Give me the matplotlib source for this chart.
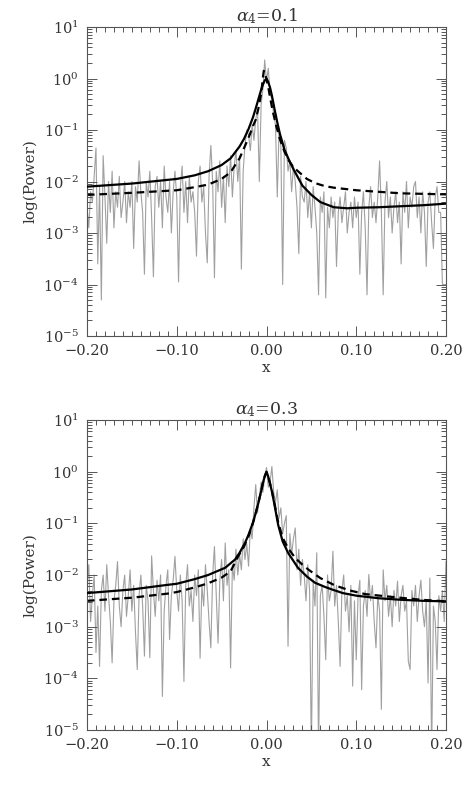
import numpy as np
import matplotlib
matplotlib.use("Agg")
import matplotlib.pyplot as plt
from matplotlib.ticker import MultipleLocator, LogLocator, FuncFormatter, NullFormatter

# ---------------- data ----------------
titles = [r"$\alpha_4$=0.1", r"$\alpha_4$=0.3"]
x_ticks = [-0.20, -0.10, 0.00, 0.10, 0.20]

# observed spectrum, log10(power), evenly sampled from x=-0.2 to 0.2
spec_top_log = [
    -2.5, -2.9, -2.2, -2.4, -1.9, -1.35, -3.6, -2.1, -4.3, -1.5,
    -2.3, -3.2, -2.0, -2.6, -1.8, -2.9, -2.2, -2.5, -1.9, -2.7,
    -2.4, -2.0, -2.8, -2.2, -2.5, -2.0, -3.3, -2.1, -2.4, -1.6,
    -2.2, -2.6, -3.8, -2.0, -2.3, -1.8, -2.7, -3.85, -2.1, -1.9,
    -2.5, -2.0, -2.9, -1.7, -2.3, -2.6, -2.0, -3.0, -2.2, -1.8,
    -2.3, -3.95, -2.1, -1.7, -2.6, -2.0, -2.8, -1.9, -2.4, -2.2,
    -2.6, -3.45, -2.0, -1.7, -2.4, -2.1, -3.0, -3.58, -1.9, -1.3,
    -2.0, -3.87, -1.8, -2.2, -1.6, -2.5, -1.9, -2.8, -1.7, -2.1,
    -1.5, -2.3, -1.7, -1.4, -2.0, -1.5, -3.7, -1.8, -1.3, -1.0,
    -1.1, -1.4, -0.9, -1.2, -0.8, -0.6, -2.0, -0.5, -0.2, 0.36,
    -0.05,
    0.2, -0.3, -0.4, -0.7, -0.9, -2.3, -1.0, -1.3, -4.0, -1.2,
    -1.35, -1.8, -1.6, -2.2, -1.7, -2.0, -2.5, -3.4, -1.9, -2.3,
    -2.4, -2.0, -2.7, -2.2, -2.9, -2.1, -2.5, -3.0, -4.2, -2.3,
    -2.6, -2.2, -4.26, -2.5, -2.9, -2.3, -2.7, -2.4, -3.65, -2.6,
    -2.3, -2.8, -2.5, -2.2, -3.0, -2.6, -2.4, -2.9, -2.3, -2.7,
    -2.4, -3.8, -2.6, -2.2, -2.9, -4.2, -2.5, -2.1, -2.7, -2.4,
    -2.8, -2.3, -1.6, -2.6, -4.2, -2.4, -2.0, -2.7, -2.3, -3.0,
    -2.5, -2.2, -2.8, -2.4, -3.6, -2.2, -2.6, -2.0, -2.9, -2.3,
    -2.5, -2.1, -2.0, -2.7, -2.3, -3.0, -2.2, -2.6, -3.65, -2.4,
    -2.2, -2.8, -3.3, -2.3, -2.1, -2.6, -2.6, -4.0, -4.0, -4.0,
]
spec_bot_log = [
    -2.2, -1.8, -2.9, -2.4, -2.0, -3.5, -2.6, -3.77, -2.3, -2.0,
    -2.7, -1.8, -2.4, -2.9, -3.7, -2.5, -2.2, -1.74, -2.6, -3.0,
    -2.3, -2.0, -2.8, -2.4, -1.9, -2.7, -2.2, -3.1, -3.83, -2.4,
    -2.0, -2.6, -3.57, -2.2, -2.5, -3.6, -1.63, -2.3, -2.8, -2.1,
    -2.5, -2.0, -4.35, -2.7, -2.2, -1.9, -3.25, -2.4, -2.1, -1.64,
    -2.3, -2.7, -2.0, -2.5, -4.06, -2.2, -1.8, -2.6, -2.3, -2.9,
    -2.0, -2.4, -1.9, -3.61, -2.2, -2.6, -1.8, -2.3, -2.9, -3.41,
    -2.0, -1.45, -2.4, -3.32, -2.1, -1.7, -2.5, -1.38, -2.2, -1.9,
    -3.8, -1.8, -2.1, -1.5, -2.0, -1.6, -1.9, -1.3, -1.7, -1.4,
    -1.83, -1.1, -1.3, -0.7, -0.25, -0.8, -0.5, -0.2, -0.4, -0.1,
    0.08,
    -0.3, -0.2, 0.1, -0.4, -0.6, -0.35, -0.9, -0.7, -1.2, -1.0,
    -0.85, -3.38, -1.2, -1.6, -1.3, -1.09, -1.9, -1.5, -2.2, -1.7,
    -2.0, -2.5, -1.8, -2.3, -5.5, -2.1, -2.6, -1.57, -5.5, -2.4,
    -2.2, -2.8, -3.64, -2.0, -2.5, -2.3, -1.54, -2.6, -2.2, -2.9,
    -3.77, -2.3, -2.0, -2.7, -2.4, -3.1, -2.2, -4.15, -2.5, -3.64,
    -2.4, -2.1, -4.22, -2.6, -2.3, -2.8, -1.99, -2.5, -2.2, -2.9,
    -3.41, -2.4, -2.7, -4.6, -1.9, -2.5, -2.2, -2.8, -2.4, -3.0,
    -2.3, -2.6, -2.12, -2.9, -2.4, -2.2, -2.7, -2.5, -3.67, -3.83,
    -2.3, -2.6, -2.2, -2.9, -2.4, -2.1, -2.7, -3.0, -2.5, -4.09,
    -2.06, -5.5, -2.6, -2.9, -3.83, -2.4, -2.7, -2.3, -2.9, -1.74,
]

# model curves (x, log10 power)
top_solid_x = [-0.2, -0.15, -0.1, -0.08, -0.065, -0.05, -0.04, -0.03, -0.025, -0.02,
               -0.015, -0.012, -0.009, -0.006, -0.004, -0.002, 0.0, 0.002, 0.004, 0.006,
               0.009, 0.012, 0.015, 0.02, 0.025, 0.03, 0.04, 0.05, 0.06, 0.075,
               0.09, 0.1, 0.125, 0.15, 0.175, 0.2]
top_solid_log = [-2.10, -2.04, -1.95, -1.88, -1.80, -1.68, -1.55, -1.32, -1.17, -0.98,
                 -0.75, -0.58, -0.40, -0.22, -0.12, -0.04, 0.0, -0.07, -0.18, -0.33,
                 -0.60, -0.85, -1.08, -1.38, -1.58, -1.76, -2.08, -2.26, -2.40, -2.50,
                 -2.52, -2.51, -2.50, -2.48, -2.46, -2.43]
top_dash_x = [-0.2, -0.15, -0.1, -0.08, -0.065, -0.05, -0.04, -0.03, -0.025, -0.02,
              -0.015, -0.012, -0.009, -0.006, -0.004, -0.003, -0.002, 0.0, 0.002, 0.004,
              0.007, 0.011, 0.015, 0.02, 0.025, 0.03, 0.035, 0.045, 0.054, 0.065,
              0.075, 0.1, 0.125, 0.15, 0.175, 0.2]
top_dash_log = [-2.26, -2.22, -2.17, -2.11, -2.06, -1.95, -1.82, -1.55, -1.35, -1.15,
                -0.92, -0.80, -0.58, -0.30, 0.02, 0.15, 0.12, -0.02, -0.17, -0.37,
                -0.64, -0.93, -1.18, -1.42, -1.60, -1.72, -1.80, -1.95, -2.03, -2.09,
                -2.12, -2.17, -2.20, -2.23, -2.24, -2.25]
bot_solid_x = [-0.2, -0.15, -0.11, -0.1, -0.08, -0.065, -0.046, -0.035, -0.03, -0.024,
               -0.02, -0.015, -0.012, -0.009, -0.006, -0.004, -0.002, 0.0, 0.002, 0.004,
               0.006, 0.009, 0.013, 0.018, 0.024, 0.035, 0.045, 0.054, 0.065, 0.073,
               0.085, 0.1, 0.125, 0.15, 0.175, 0.2]
bot_solid_log = [-2.35, -2.28, -2.19, -2.17, -2.08, -2.00, -1.86, -1.70, -1.57, -1.38,
                 -1.22, -0.98, -0.80, -0.60, -0.38, -0.22, -0.09, 0.0, -0.10, -0.24,
                 -0.38, -0.65, -1.03, -1.35, -1.57, -1.86, -2.03, -2.15, -2.23, -2.28,
                 -2.35, -2.40, -2.45, -2.48, -2.50, -2.51]
bot_dash_x = [-0.2, -0.15, -0.11, -0.1, -0.08, -0.065, -0.05, -0.04, -0.031, -0.025,
              -0.02, -0.015, -0.012, -0.009, -0.006, -0.004, -0.002, 0.0, 0.002, 0.004,
              0.006, 0.009, 0.013, 0.018, 0.024, 0.032, 0.04, 0.047, 0.06, 0.076,
              0.093, 0.11, 0.143, 0.173, 0.2]
bot_dash_log = [-2.50, -2.44, -2.36, -2.33, -2.24, -2.16, -2.05, -1.93, -1.62, -1.45,
                -1.25, -0.99, -0.80, -0.60, -0.38, -0.22, -0.09, -0.01, -0.10, -0.23,
                -0.37, -0.62, -0.98, -1.28, -1.48, -1.67, -1.80, -1.90, -2.06, -2.20,
                -2.30, -2.37, -2.43, -2.48, -2.51]

panels = [
    (spec_top_log, top_solid_x, top_solid_log, top_dash_x, top_dash_log),
    (spec_bot_log, bot_solid_x, bot_solid_log, bot_dash_x, bot_dash_log),
]

# ---------------- figure ----------------
plt.rcParams['font.family'] = ['DejaVu Serif']
plt.rcParams['mathtext.fontset'] = 'dejavuserif'
txt_col = '#333333'
axis_col = '#555555'

W, H = 472, 786
fig = plt.figure(figsize=(W / 100, H / 100), dpi=100)
axes_px = [(87, 27, 446, 336), (87, 420, 446, 730)]

def minus_fmt(v, pos):
    s = "%.2f" % v
    return s.replace("-", "\u2212")

for (l, t, r, b), title, (spec, sx, sy, dx, dy) in zip(axes_px, titles, panels):
    ax = fig.add_axes([l / W, 1 - b / H, (r - l) / W, (b - t) / H])
    xs = np.linspace(-0.2, 0.2, len(spec))
    ax.plot(xs, 10 ** np.array(spec), color='#a0a0a0', lw=0.8, zorder=1)
    ax.plot(sx, 10 ** np.array(sy), color='black', lw=1.6, zorder=3)
    ax.plot(dx, 10 ** np.array(dy), color='black', lw=1.6, dashes=[3.4, 2.2], zorder=2)
    ax.set_yscale('log')
    ax.set_xlim(-0.2, 0.2)
    ax.set_ylim(1e-5, 1e1)
    ax.set_xticks(x_ticks)
    ax.xaxis.set_major_formatter(FuncFormatter(minus_fmt))
    ax.xaxis.set_minor_locator(MultipleLocator(0.01))
    ax.yaxis.set_major_locator(LogLocator(base=10, numticks=10))
    ax.yaxis.set_minor_locator(LogLocator(base=10, subs=np.arange(2, 10), numticks=20))
    ax.yaxis.set_minor_formatter(NullFormatter())
    ax.tick_params(which='both', direction='in', top=True, right=True,
                   color=axis_col, labelcolor=txt_col, labelsize=10.5, width=0.7)
    ax.tick_params(which='major', length=7, pad=6)
    ax.tick_params(which='minor', length=3.5)
    for sp in ax.spines.values():
        sp.set_color(axis_col)
        sp.set_linewidth(0.8)
    ax.set_title(title, fontsize=12.5, color=txt_col, pad=4)
    ax.set_xlabel('x', fontsize=11, color=txt_col, labelpad=2)
    ax.set_ylabel('log(Power)', fontsize=11, color=txt_col, labelpad=4)

fig.savefig('out.png', dpi=100)
